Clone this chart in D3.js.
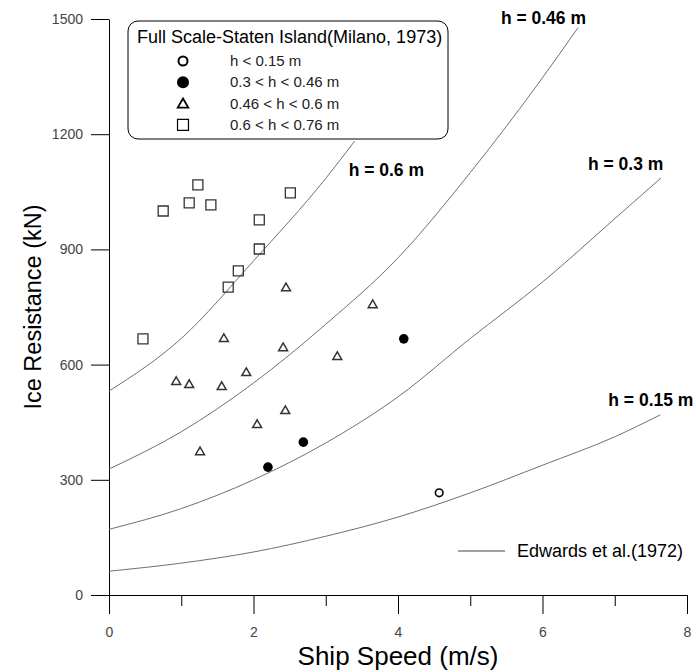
<!DOCTYPE html>
<html>
<head>
<meta charset="utf-8">
<script src="https://cdn.jsdelivr.net/npm/d3@7"></script>
<style>
  body { margin: 0; background: #fff; }
  svg { font-family: "Liberation Sans", Arial, sans-serif; }
</style>
</head>
<body>
<div id="chart"></div>
<script>
// Edwards et al. (1972) curves: [speed m/s, resistance kN]
var curve015 = [[0, 62], [1, 83], [2, 112], [3, 153], [4, 203], [5, 266], [6, 338], [7, 412], [7.63, 469]];
var curve030 = [[0, 171], [1, 225], [2, 300], [3, 396], [4, 516], [5, 668], [6, 815], [7, 980], [7.64, 1086]];
var curve046 = [[0, 328], [1, 425], [2, 552], [3, 705], [4, 878], [5, 1100], [6, 1347], [6.49, 1477]];
var curve060 = [[0, 531], [1, 668], [2, 870], [3, 1085], [3.4, 1182]];
var curveNames = ["h = 0.15 m", "h = 0.3 m", "h = 0.46 m", "h = 0.6 m"];

// Full scale Staten Island measurements (Milano, 1973)
var openCircles = [[4.57, 266]];
var filledCircles = [[2.20, 333], [2.69, 398], [4.08, 667]];
var triangles = [[2.45, 799], [3.65, 755], [1.59, 667], [2.41, 643], [3.16, 620], [1.90, 578],
                 [0.93, 555], [1.11, 547], [1.56, 542], [2.44, 479], [2.05, 443], [1.26, 372]];
var squares = [[1.23, 1068], [2.51, 1047], [1.11, 1021], [0.75, 1000], [1.41, 1016], [2.08, 977],
               [2.08, 901], [1.79, 844], [1.65, 802], [0.47, 667]];
var legendNames = ["h < 0.15 m", "0.3 < h < 0.46 m", "0.46 < h < 0.6 m", "0.6 < h < 0.76 m"];

var xTicks = [0, 2, 4, 6, 8];
var xMinorTicks = [1, 3, 5, 7];
var yTicks = [0, 300, 600, 900, 1200, 1500];

let width = 696;
let height = 672;

let svg = d3.select("#chart")
  .append("svg")
  .attr("width", width)
  .attr("height", height);

let x = d3.scaleLinear().domain([0, 8]).range([109, 687]);
let y = d3.scaleLinear().domain([0, 1500]).range([595, 19]);

// axes
svg.append("g")
  .attr("transform", "translate(0,595)")
  .call(d3.axisBottom(x).tickValues(xTicks).tickSize(19).tickSizeOuter(0).tickPadding(13));

svg.append("g")
  .attr("transform", "translate(0,595)")
  .call(d3.axisBottom(x).tickValues(xMinorTicks).tickSize(11).tickFormat("").tickSizeOuter(0))
  .select(".domain").remove();

svg.append("g")
  .attr("transform", "translate(109,0)")
  .call(d3.axisLeft(y).tickValues(yTicks).tickFormat(d3.format("d")).tickSize(18).tickSizeOuter(0).tickPadding(8));

svg.selectAll(".tick text")
  .style("font-size", "14px")
  .style("font-family", "'Liberation Sans', Arial, sans-serif")
  .attr("fill", "#444");

svg.append("text")
  .attr("x", (x(0) + x(8)) / 2)
  .attr("y", 665)
  .attr("text-anchor", "middle")
  .style("font-size", "26px")
  .text("Ship Speed (m/s)");

svg.append("text")
  .attr("transform", "translate(41," + (y(0) + y(1500)) / 2 + ") rotate(-90)")
  .attr("text-anchor", "middle")
  .style("font-size", "23.5px")
  .text("Ice Resistance (kN)");

// curves
let line = d3.line()
  .x(d => x(d[0]))
  .y(d => y(d[1]))
  .curve(d3.curveMonotoneX);

let curves = [curve015, curve030, curve046, curve060];
// label offsets from the end of each curve (px)
let labelOffset = [[-52, -9], [-73, -8], [-77, -4], [-6, 35]];

svg.append("g")
  .selectAll("path")
  .data(curves)
  .enter()
  .append("path")
  .attr("d", line)
  .attr("fill", "none")
  .style("stroke", "#707070")
  .style("stroke-width", "1px");

svg.append("g")
  .selectAll("text")
  .data(curves)
  .enter()
  .append("text")
  .attr("x", (d, i) => x(d[d.length - 1][0]) + labelOffset[i][0])
  .attr("y", (d, i) => y(d[d.length - 1][1]) + labelOffset[i][1])
  .style("font-size", "17.5px")
  .style("font-weight", "bold")
  .text((d, i) => curveNames[i]);

// markers
let triPath = d3.symbol().type(d3.symbolTriangle).size(34);
let sqPath = d3.symbol().type(d3.symbolSquare).size(100);

svg.append("g")
  .selectAll("path")
  .data(squares)
  .enter()
  .append("path")
  .attr("d", sqPath)
  .attr("transform", d => "translate(" + x(d[0]) + "," + y(d[1]) + ")")
  .attr("fill", "none")
  .style("stroke", "#333")
  .style("stroke-width", "1.3px");

svg.append("g")
  .selectAll("path")
  .data(triangles)
  .enter()
  .append("path")
  .attr("d", triPath)
  .attr("transform", d => "translate(" + x(d[0]) + "," + y(d[1]) + ")")
  .attr("fill", "none")
  .style("stroke", "#333")
  .style("stroke-width", "1.5px");

svg.append("g")
  .selectAll("circle")
  .data(filledCircles)
  .enter()
  .append("circle")
  .attr("cx", d => x(d[0]))
  .attr("cy", d => y(d[1]))
  .attr("r", 4.8)
  .attr("fill", "black");

svg.append("g")
  .selectAll("circle")
  .data(openCircles)
  .enter()
  .append("circle")
  .attr("cx", d => x(d[0]))
  .attr("cy", d => y(d[1]))
  .attr("r", 3.8)
  .attr("fill", "white")
  .style("stroke", "black")
  .style("stroke-width", "1.6px");

// legend box
let legend = svg.append("g").attr("transform", "translate(128,21)");

legend.append("rect")
  .attr("width", 320)
  .attr("height", 118)
  .attr("rx", 10)
  .attr("ry", 10)
  .attr("fill", "white")
  .style("stroke", "black")
  .style("stroke-width", "1px");

legend.append("text")
  .attr("x", 9)
  .attr("y", 22)
  .style("font-size", "18px")
  .text("Full Scale-Staten Island(Milano, 1973)");

let rowY = i => 40 + i * 21.3;

legend.append("circle")
  .attr("cx", 55).attr("cy", rowY(0)).attr("r", 4.5)
  .attr("fill", "white").style("stroke", "black").style("stroke-width", "2px");
legend.append("circle")
  .attr("cx", 55).attr("cy", rowY(1)).attr("r", 6)
  .attr("fill", "black");
legend.append("path")
  .attr("d", d3.symbol().type(d3.symbolTriangle).size(48))
  .attr("transform", "translate(55," + (rowY(2) + 1) + ")")
  .attr("fill", "none").style("stroke", "black").style("stroke-width", "1.8px");
legend.append("path")
  .attr("d", d3.symbol().type(d3.symbolSquare).size(120))
  .attr("transform", "translate(55," + rowY(3) + ")")
  .attr("fill", "none").style("stroke", "black").style("stroke-width", "1.2px");

legend.selectAll(".entry")
  .data(legendNames)
  .enter()
  .append("text")
  .attr("class", "entry")
  .attr("x", 102)
  .attr("y", (d, i) => rowY(i) + 5)
  .style("font-size", "15px")
  .attr("fill", "#222")
  .text(d => d);

// Edwards legend
svg.append("line")
  .attr("x1", 458).attr("x2", 505)
  .attr("y1", 551).attr("y2", 551)
  .style("stroke", "#444")
  .style("stroke-width", "1px");

svg.append("text")
  .attr("x", 517)
  .attr("y", 557)
  .style("font-size", "18px")
  .text("Edwards et al.(1972)");
</script>
</body>
</html>
